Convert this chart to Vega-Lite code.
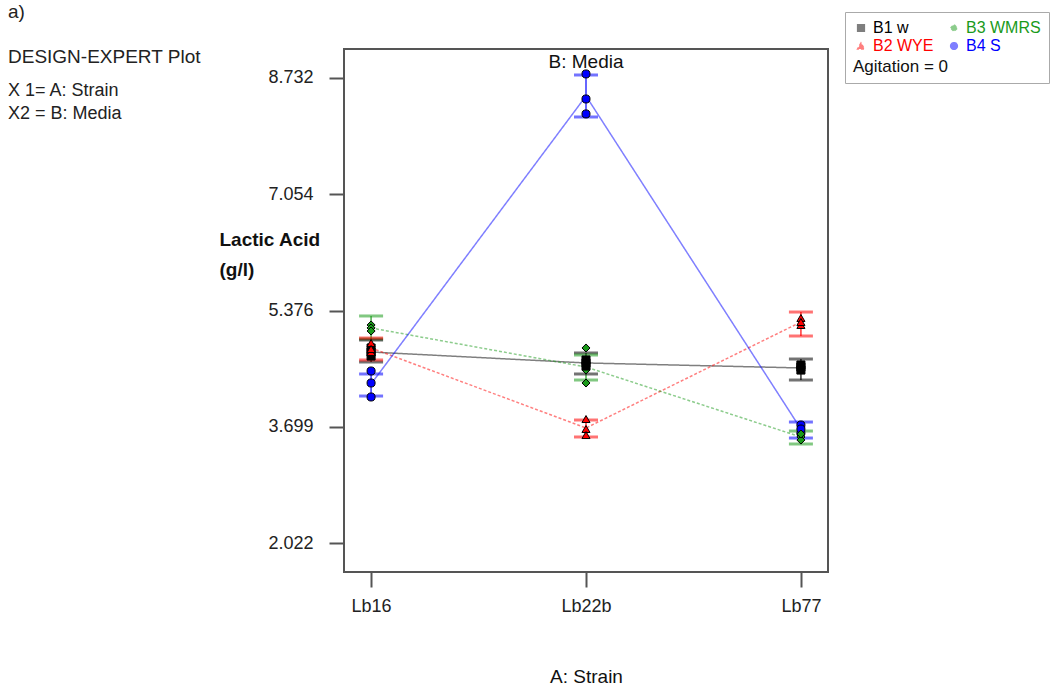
{
  "$schema": "https://vega.github.io/schema/vega-lite/v6.json",
  "width": 484,
  "height": 523,
  "autosize": {"type": "none"},
  "padding": {"left": 344, "top": 49, "right": 230, "bottom": 116},
  "background": "white",
  "config": {
    "font": "Liberation Sans",
    "view": {"stroke": "#555555", "strokeWidth": 2},
    "axis": {"labelFont": "Liberation Sans", "titleFont": "Liberation Sans", "labelColor": "#222222", "titleColor": "#111111", "grid": false, "domain": false, "tickColor": "#555555", "tickWidth": 2, "tickSize": 15}
  },
  "title": {
    "text": ["a)", "DESIGN-EXPERT Plot"],
    "subtitle": ["X 1= A: Strain", "X2 = B: Media"],
    "anchor": "start",
    "frame": "group",
    "orient": "top",
    "dx": -336,
    "offset": -111,
    "font": "Liberation Sans",
    "fontSize": 19,
    "fontWeight": "normal",
    "color": "#222222",
    "lineHeight": 45,
    "subtitleFont": "Liberation Sans",
    "subtitleFontSize": 18,
    "subtitleColor": "#222222",
    "subtitleLineHeight": 23,
    "subtitlePadding": 15
  },
  "datasets": {
    "pts": [
      {"strain": "Lb16", "media": "B1 w", "value": 4.836},
      {"strain": "Lb16", "media": "B1 w", "value": 4.778},
      {"strain": "Lb16", "media": "B1 w", "value": 4.720},
      {"strain": "Lb16", "media": "B2 WYE", "value": 4.908},
      {"strain": "Lb16", "media": "B2 WYE", "value": 4.778},
      {"strain": "Lb16", "media": "B2 WYE", "value": 4.822},
      {"strain": "Lb16", "media": "B3 WMRS", "value": 5.168},
      {"strain": "Lb16", "media": "B3 WMRS", "value": 5.125},
      {"strain": "Lb16", "media": "B3 WMRS", "value": 5.081},
      {"strain": "Lb16", "media": "B4 S", "value": 4.504},
      {"strain": "Lb16", "media": "B4 S", "value": 4.331},
      {"strain": "Lb16", "media": "B4 S", "value": 4.129},
      {"strain": "Lb22b", "media": "B4 S", "value": 8.790},
      {"strain": "Lb22b", "media": "B4 S", "value": 8.429},
      {"strain": "Lb22b", "media": "B4 S", "value": 8.213},
      {"strain": "Lb22b", "media": "B3 WMRS", "value": 4.836},
      {"strain": "Lb22b", "media": "B3 WMRS", "value": 4.518},
      {"strain": "Lb22b", "media": "B3 WMRS", "value": 4.331},
      {"strain": "Lb22b", "media": "B1 w", "value": 4.663},
      {"strain": "Lb22b", "media": "B1 w", "value": 4.620},
      {"strain": "Lb22b", "media": "B1 w", "value": 4.576},
      {"strain": "Lb22b", "media": "B2 WYE", "value": 3.811},
      {"strain": "Lb22b", "media": "B2 WYE", "value": 3.667},
      {"strain": "Lb22b", "media": "B2 WYE", "value": 3.580},
      {"strain": "Lb77", "media": "B2 WYE", "value": 5.269},
      {"strain": "Lb77", "media": "B2 WYE", "value": 5.168},
      {"strain": "Lb77", "media": "B2 WYE", "value": 5.211},
      {"strain": "Lb77", "media": "B1 w", "value": 4.562},
      {"strain": "Lb77", "media": "B1 w", "value": 4.518},
      {"strain": "Lb77", "media": "B1 w", "value": 4.591},
      {"strain": "Lb77", "media": "B4 S", "value": 3.725},
      {"strain": "Lb77", "media": "B4 S", "value": 3.609},
      {"strain": "Lb77", "media": "B4 S", "value": 3.667},
      {"strain": "Lb77", "media": "B3 WMRS", "value": 3.552},
      {"strain": "Lb77", "media": "B3 WMRS", "value": 3.508},
      {"strain": "Lb77", "media": "B3 WMRS", "value": 3.595}
    ],
    "means": [
      {"strain": "Lb16", "media": "B1 w", "mean": 4.778, "lo": 4.634, "hi": 4.951},
      {"strain": "Lb16", "media": "B2 WYE", "mean": 4.836, "lo": 4.663, "hi": 4.980},
      {"strain": "Lb16", "media": "B3 WMRS", "mean": 5.125, "lo": 4.966, "hi": 5.298},
      {"strain": "Lb16", "media": "B4 S", "mean": 4.316, "lo": 4.143, "hi": 4.461},
      {"strain": "Lb22b", "media": "B1 w", "mean": 4.620, "lo": 4.461, "hi": 4.764},
      {"strain": "Lb22b", "media": "B2 WYE", "mean": 3.682, "lo": 3.552, "hi": 3.797},
      {"strain": "Lb22b", "media": "B3 WMRS", "mean": 4.562, "lo": 4.374, "hi": 4.735},
      {"strain": "Lb22b", "media": "B4 S", "mean": 8.472, "lo": 8.169, "hi": 8.775},
      {"strain": "Lb77", "media": "B1 w", "mean": 4.548, "lo": 4.374, "hi": 4.677},
      {"strain": "Lb77", "media": "B2 WYE", "mean": 5.211, "lo": 5.009, "hi": 5.355},
      {"strain": "Lb77", "media": "B3 WMRS", "mean": 3.552, "lo": 3.451, "hi": 3.638},
      {"strain": "Lb77", "media": "B4 S", "mean": 3.667, "lo": 3.537, "hi": 3.768}
    ],
    "lbl": [
      {"strain": "Lb22b", "value": 8.963, "label": "B: Media"}
    ]
  },
  "encoding": {
    "x": {
      "field": "strain",
      "type": "nominal",
      "scale": {"type": "point", "domain": ["Lb16", "Lb22b", "Lb77"], "padding": 0.126},
      "axis": {"title": "A: Strain", "labelAngle": 0, "labelFontSize": 18, "labelPadding": 10, "titleFontSize": 19, "titleFontWeight": "normal", "titlePadding": 52}
    }
  },
  "layer": [
    {
      "data": {"name": "means"},
      "mark": {"type": "line", "strokeWidth": 1.5, "opacity": 0.5},
      "encoding": {
        "y": {"field": "mean", "type": "quantitative"},
        "color": {"field": "media", "type": "nominal"},
        "strokeDash": {"field": "media", "type": "nominal", "scale": {"domain": ["B1 w", "B2 WYE", "B3 WMRS", "B4 S"], "range": [[1, 0], [3, 2], [3, 2], [1, 0]]}, "legend": null}
      }
    },
    {
      "data": {"name": "means"},
      "mark": {"type": "rule", "strokeWidth": 1.5, "opacity": 0.8},
      "encoding": {
        "y": {"field": "lo", "type": "quantitative"},
        "y2": {"field": "hi"},
        "color": {"field": "media", "type": "nominal"}
      }
    },
    {
      "data": {"name": "means"},
      "mark": {"type": "tick", "orient": "horizontal", "size": 24, "thickness": 3, "opacity": 0.55},
      "encoding": {
        "y": {"field": "lo", "type": "quantitative"},
        "color": {"field": "media", "type": "nominal"}
      }
    },
    {
      "data": {"name": "means"},
      "mark": {"type": "tick", "orient": "horizontal", "size": 24, "thickness": 3, "opacity": 0.55},
      "encoding": {
        "y": {"field": "hi", "type": "quantitative"},
        "color": {"field": "media", "type": "nominal"}
      }
    },
    {
      "data": {"name": "pts"},
      "mark": {"type": "point", "filled": true, "stroke": "#000000", "strokeWidth": 1, "size": 65, "opacity": 1},
      "encoding": {
        "y": {
          "field": "value",
          "type": "quantitative",
          "scale": {"domain": [1.604, 9.15], "nice": false, "zero": false},
          "axis": {
            "values": [2.022, 3.699, 5.376, 7.054, 8.732],
            "format": ".3f",
            "labelFontSize": 18,
            "labelPadding": 16,
            "title": ["Lactic Acid", "\u00a0\u00a0\u00a0(g/l)"],
            "titleAngle": 0,
            "titleAlign": "left",
            "titleBaseline": "top",
            "titleX": -125,
            "titleY": 181,
            "titleFontSize": 19,
            "titleFontWeight": "bold",
            "titleLineHeight": 30
          }
        },
        "color": {
          "field": "media",
          "type": "nominal",
          "scale": {"domain": ["B1 w", "B2 WYE", "B3 WMRS", "B4 S"], "range": ["#000000", "#ff0000", "#1a9a1a", "#0000ff"]},
          "legend": {
            "orient": "none",
            "legendX": 501,
            "legendY": -37,
            "direction": "vertical",
            "columns": 2,
            "title": "Agitation = 0",
            "titleOrient": "bottom",
            "titleAnchor": "start",
            "titleFontWeight": "normal",
            "titleFontSize": 17,
            "titleColor": "#111111",
            "titleFont": "Liberation Sans",
            "titlePadding": 5,
            "labelFontSize": 16,
            "labelFont": "Liberation Sans",
            "labelOffset": 4,
            "labelColor": {"expr": "scale('color', datum.value)"},
            "symbolSize": 45,
            "symbolOpacity": 1,
            "strokeColor": "#aaaaaa",
            "fillColor": "white",
            "padding": 8,
            "rowPadding": 2,
            "columnPadding": 12,
            "encode": {"symbols": {"update": {"opacity": {"value": 1}, "fillOpacity": {"value": 1}, "strokeOpacity": {"value": 1}}}}
          }
        },
        "shape": {
          "field": "media",
          "type": "nominal",
          "scale": {"domain": ["B1 w", "B2 WYE", "B3 WMRS", "B4 S"], "range": ["square", "triangle-up", "diamond", "circle"]}
        }
      }
    },
    {
      "data": {"name": "lbl"},
      "mark": {"type": "text", "fontSize": 19, "font": "Liberation Sans", "color": "#111111", "baseline": "middle"},
      "encoding": {
        "y": {"field": "value", "type": "quantitative"},
        "text": {"field": "label", "type": "nominal"}
      }
    }
  ]
}
